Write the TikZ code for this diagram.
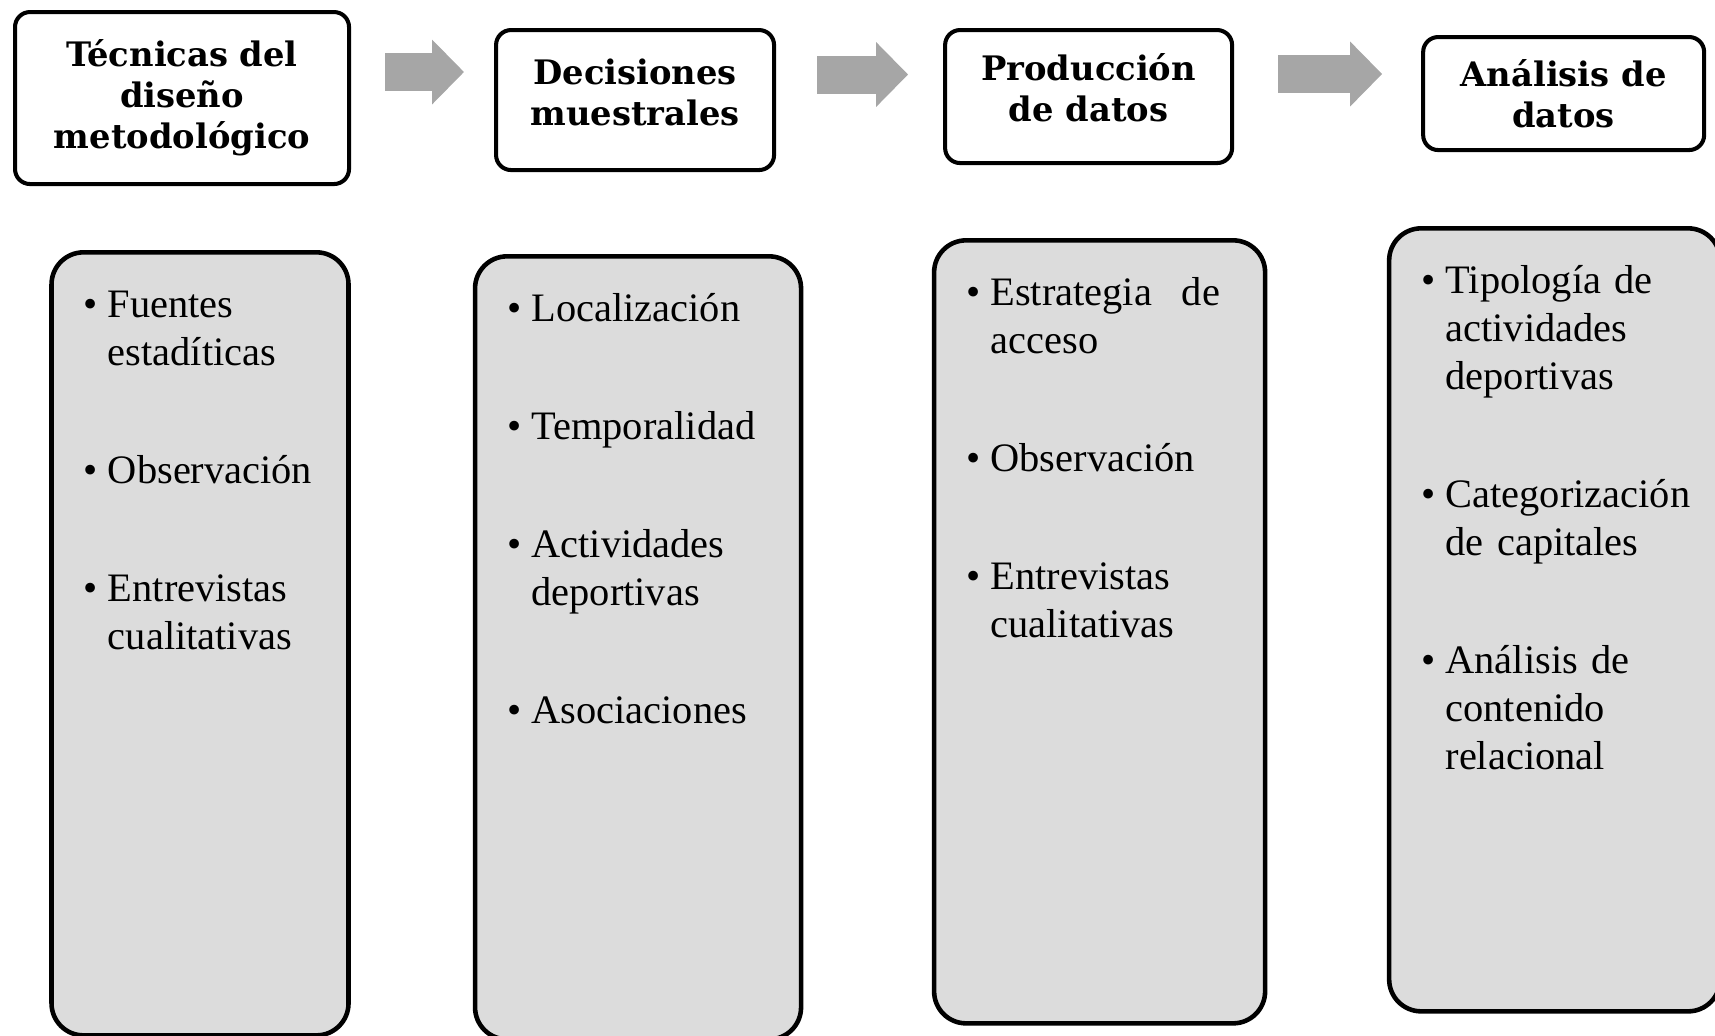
\documentclass[tikz,border=0pt]{standalone}
\usepackage{fontspec}
\setmainfont{Liberation Serif}
\newfontfamily\titlefont{DejaVu Serif}
\usepackage{xcolor}
\usepackage{tikz}
\usetikzlibrary{calc}
\usetikzlibrary{arrows.meta}
\usetikzlibrary{positioning}

\definecolor{boxgray}{HTML}{DCDCDC}
\definecolor{arrowgray}{HTML}{A6A6A6}

\newcommand{\punto}[1]{\hangindent=0.24cm\hangafter=1\noindent\strut\makebox[0.24cm][l]{\textbullet}#1\par}
\newcommand{\hueco}{\vspace{0.70cm}}

\begin{document}
\begin{tikzpicture}
    \tikzstyle{every node}=[font=\fontsize{11.5pt}{0.48cm}\selectfont]
    \tikzstyle{titlebox}=[draw=black,line width=1.15pt,rounded corners=0.15cm,align=center,inner sep=0pt,font=\titlefont\fontsize{9.6pt}{0.41cm}\selectfont\bfseries]
    \tikzstyle{listbox}=[draw=black,line width=1.3pt,rounded corners=0.32cm,fill=boxgray,minimum height=7.83cm]
    \tikzstyle{listtxt}=[inner sep=0pt,text width=3.1cm,align=left]
    \tikzstyle{flecha}=[draw=arrowgray,line width=0.38cm,-{Triangle[length=0.32cm,width=0.63cm]}]

    \useasboundingbox (0,0) rectangle (17.15,-10.35);

    % top row
    \node[titlebox,minimum width=3.34cm,minimum height=1.72cm,anchor=north west] (tecnicas) at (0.13,-0.10) {Técnicas del\\diseño\\metodológico};
    \node[titlebox,minimum width=2.78cm,minimum height=1.40cm,text depth=0.16cm,right=1.43cm of tecnicas,yshift=-0.02cm] (decisiones) {Decisiones\\muestrales};
    \node[titlebox,minimum width=2.87cm,minimum height=1.33cm,text depth=0.18cm,right=1.67cm of decisiones,yshift=0.035cm] (produccion) {Producción\\de datos};
    \node[titlebox,minimum width=2.81cm,minimum height=1.13cm,right=1.87cm of produccion,yshift=0.03cm] (analisis) {Análisis de\\datos};

    \draw[flecha] let \p1 = (tecnicas.east),
                      \p2 = (decisiones.west) in
                  (\x1+0.34cm,-0.72cm) -- (\x2-0.30cm,-0.72cm);
    \draw[flecha] let \p1 = (decisiones.east),
                      \p2 = (produccion.west) in
                  (\x1+0.41cm,-0.745cm) -- (\x2-0.35cm,-0.745cm);
    \draw[flecha] let \p1 = (produccion.east),
                      \p2 = (analisis.west) in
                  (\x1+0.44cm,-0.74cm) -- (\x2-0.39cm,-0.74cm);

    % grey columns
    \node[listbox,minimum width=2.97cm,below=0.64cm of tecnicas,xshift=0.18cm] (tecnicasbox) {};
    \node[listbox,minimum width=3.26cm,below=0.82cm of decisiones,xshift=0.03cm] (decisionesbox) {};
    \node[listbox,minimum width=3.31cm,below=0.73cm of produccion,xshift=0.11cm] (produccionbox) {};
    \node[listbox,minimum width=3.31cm,below=0.74cm of analisis,xshift=-0.09cm] (analisisbox) {};

    \node[listtxt,below right=0.335cm and 0.34cm of tecnicasbox.north west] (tecnicastxt) {%
      \punto{Fuentes\newline estadíticas}\hueco
      \punto{Observación}\hueco
      \punto{Entrevistas\newline cualitativas}};
    \node[listtxt,below right=0.335cm and 0.34cm of decisionesbox.north west] (decisionestxt) {%
      \punto{Localización}\hueco
      \punto{Temporalidad}\hueco
      \punto{Actividades\newline deportivas}\hueco
      \punto{Asociaciones}};
    \node[listtxt,below right=0.335cm and 0.34cm of produccionbox.north west] (producciontxt) {%
      \punto{Estrategia\hspace{0.4em} de\newline acceso}\hueco
      \punto{Observación}\hueco
      \punto{Entrevistas\newline cualitativas}};
    \node[listtxt,below right=0.335cm and 0.34cm of analisisbox.north west] (analisistxt) {%
      \punto{Tipología de\newline actividades\newline deportivas}\hueco
      \punto{Categorización\newline de capitales}\hueco
      \punto{Análisis de\newline contenido\newline relacional}};
\end{tikzpicture}
\end{document}
